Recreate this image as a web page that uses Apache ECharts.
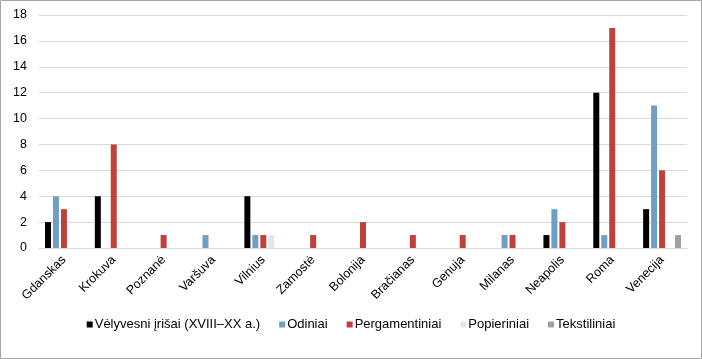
<!DOCTYPE html>
<html><head><meta charset="utf-8">
<script src="https://cdn.jsdelivr.net/npm/echarts@6/dist/echarts.min.js"></script>
<style>html,body{margin:0;padding:0;background:#fff}#c{width:702px;height:359px}</style>
</head><body><div id="c"></div>
<script>
const categories = ['Gdanskas','Krokuva','Poznanė','Varšuva','Vilnius','Zamostė','Bolonija','Bračianas','Genuja','Milanas','Neapolis','Roma','Venecija'];
const seriesNames = ['Vėlyvesni įrišai (XVIII–XX a.)','Odiniai','Pergamentiniai','Popieriniai','Tekstiliniai'];
const velyvesni = [2,4,0,0,4,0,0,0,0,0,1,12,3];
const odiniai = [4,0,0,1,1,0,0,0,0,1,3,1,11];
const pergamentiniai = [3,8,1,0,1,1,2,1,1,1,2,17,6];
const popieriniai = [0,0,0,0,1,0,0,0,0,0,0,0,0];
const tekstiliniai = [0,0,0,0,0,0,0,0,0,0,0,0,1];
const colors = ['#000000','#6f9fc4','#c0403a','#dde7f1','#a0a0a0'];
const yTicks = [0,2,4,6,8,10,12,14,16,18];

const values = [velyvesni, odiniai, pergamentiniai, popieriniai, tekstiliniai];
const chart = echarts.init(document.getElementById('c'), null, {renderer:'canvas'});
const font = 'Liberation Sans, Arial, sans-serif';
chart.setOption({
  animation:false,
  textStyle:{fontFamily:font},
  graphic:[{type:'rect',shape:{x:0.5,y:0.5,width:701,height:358},style:{fill:'none',stroke:'#a6a6a6',lineWidth:1},silent:true}],
  grid:{left:39,right:15,top:15,bottom:111,containLabel:false},
  legend:{
    top:318,left:'center',padding:0,itemWidth:6,itemHeight:6,itemGap:19,icon:'rect',
    textStyle:{fontSize:13,color:'#000',fontFamily:font,padding:[0,0,0,-3]},
    data:seriesNames
  },
  xAxis:{
    type:'category',data:categories,
    axisLine:{lineStyle:{color:'#d9d9d9'}},
    axisTick:{show:false},
    axisLabel:{rotate:45,fontSize:12.5,color:'#000',interval:0,margin:10,fontFamily:font}
  },
  yAxis:{
    type:'value',min:yTicks[0],max:yTicks[yTicks.length-1],interval:2,
    axisLine:{show:false},axisTick:{show:false},
    splitLine:{lineStyle:{color:'#d9d9d9'}},
    axisLabel:{fontSize:12.5,color:'#000',margin:12,fontFamily:font}
  },
  series: seriesNames.map((n,i)=>({
    name:n,type:'bar',data:values[i],
    itemStyle:{color:colors[i]},
    barGap:'33%',barCategoryGap:'24%'
  }))
});
</script></body></html>
